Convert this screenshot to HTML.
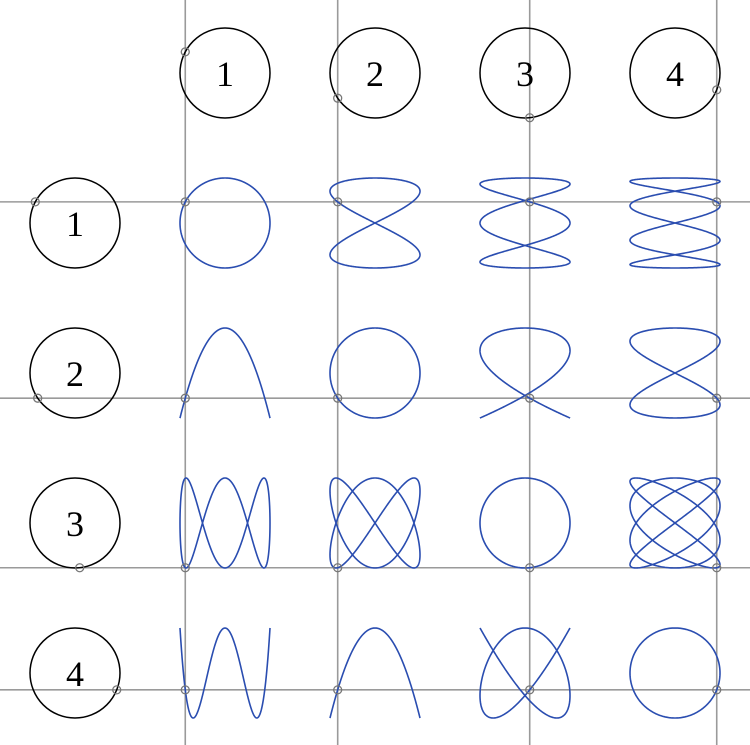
<!DOCTYPE html>
<html><head><meta charset="utf-8">
<style>
html,body{margin:0;padding:0;background:#fff;}
svg{display:block;}
text{font-family:"Liberation Serif","DejaVu Serif",serif;font-size:36px;fill:#000;}
</style></head>
<body>
<svg id="s" width="750" height="745" viewBox="0 0 750 745" xmlns="http://www.w3.org/2000/svg">
<g id="grid" stroke="#9a9a9a" stroke-width="1.6"></g>
<g id="circ" fill="none" stroke="#000" stroke-width="1.5"></g>
<g id="curves" fill="none" stroke="#2a4db0" stroke-width="1.6"></g>
<g id="labels" text-anchor="middle"></g>
<g id="dots" fill="none" stroke="#777" stroke-width="1.3"></g>
</svg>
<script>
var NS="http://www.w3.org/2000/svg";
function el(p,n,a,t){var e=document.createElementNS(NS,n);for(var k in a)e.setAttribute(k,a[k]);if(t)e.textContent=t;document.getElementById(p).appendChild(e);return e;}
var cx=[225,375,525,675], cy=[223,373,523,673], R=45, hy=73, lx=75;
var t0=62*Math.PI/180;
function X(j,t){return -Math.sin(j*t);}
function Y(i,t){return -Math.cos(i*t);}
var vx=[],hyl=[];
for(var j=0;j<4;j++){vx[j]=cx[j]+R*X(j+1,t0);}
for(var i=0;i<4;i++){hyl[i]=cy[i]+R*Y(i+1,t0);}
for(var j=0;j<4;j++) el("grid","line",{x1:vx[j],y1:0,x2:vx[j],y2:745});
for(var i=0;i<4;i++) el("grid","line",{x1:0,y1:hyl[i],x2:750,y2:hyl[i]});
for(var j=0;j<4;j++){
  el("circ","circle",{cx:cx[j],cy:hy,r:R});
  el("labels","text",{x:cx[j],y:hy+13},String(j+1));
  el("dots","circle",{cx:vx[j],cy:hy+R*Y(j+1,t0),r:4});
}
for(var i=0;i<4;i++){
  el("circ","circle",{cx:lx,cy:cy[i],r:R});
  el("labels","text",{x:lx,y:cy[i]+13},String(i+1));
  el("dots","circle",{cx:lx+R*X(i+1,t0),cy:hyl[i],r:4});
}
for(var i=0;i<4;i++)for(var j=0;j<4;j++){
  var d="",N=800;
  for(var k=0;k<=N;k++){var t=2*Math.PI*k/N;
    var x=cx[j]+R*X(j+1,t), y=cy[i]+R*Y(i+1,t);
    d+=(k?"L":"M")+x.toFixed(2)+" "+y.toFixed(2);}
  el("curves","path",{d:d});
  el("dots","circle",{cx:vx[j],cy:hyl[i],r:4});
}
</script>
</body></html>
